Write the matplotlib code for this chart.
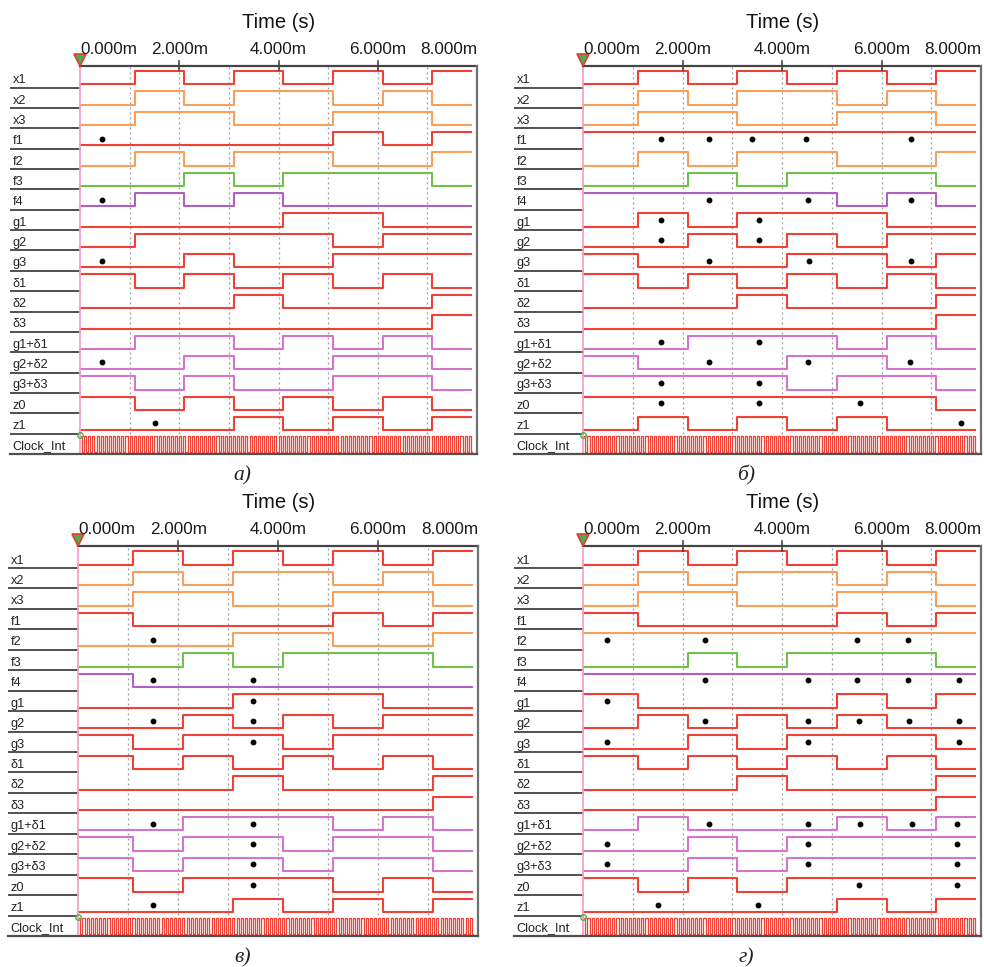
import numpy as np
import matplotlib.pyplot as plt

plt.rcParams['font.family'] = ['Liberation Sans', 'DejaVu Sans']

# signal rows (top to bottom), clock row comes after them
rows = ['x1', 'x2', 'x3', 'f1', 'f2', 'f3', 'f4', 'g1', 'g2', 'g3',
        'δ1', 'δ2', 'δ3', 'g1+δ1', 'g2+δ2', 'g3+δ3', 'z0', 'z1']

# switching instants of the input combinations, ms
edges = [0, 1.1, 2.1, 3.1, 4.1, 5.1, 6.1, 7.1, 7.88]
clock_per_ms = 12
clock_end = 7.9

# levels on the 8 intervals, one string per row
sig_a = ['01010101', '01011010', '01100110', '00000101', '01011001', '00101110',
         '01010000', '00001100', '01111011', '00100111', '10101010', '00010001',
         '00000001', '01101010', '00100110', '10100110', '10101010', '00010101']
sig_b = ['01010101', '01011010', '01100110', '11111111', '01011001', '00101110',
         '11111010', '01011100', '00101011', '10001101', '10101010', '00010001',
         '00000001', '00111010', '10001100', '11110110', '11111110', '01010100']
sig_c = ['01010101', '01011010', '01100110', '10000101', '00011001', '00101110',
         '10000000', '00011100', '00101011', '10110111', '10101010', '00010001',
         '00000001', '00111010', '10110110', '10110110', '10111010', '00010101']
sig_d = ['01010101', '01011010', '01100110', '10000101', '11111111', '00101110',
         '11111111', '10000101', '01010100', '00101110', '10101010', '00010001',
         '00000001', '01000101', '00101111', '00101111', '10101111', '00000101']

# black marks: (row, time in ms)
dots_a = [('f1', 0.44), ('f4', 0.44), ('g3', 0.44), ('g2+δ2', 0.44), ('z1', 1.52)]
dots_b = [('f1', 1.56), ('f1', 2.52), ('f1', 3.40), ('f1', 4.48), ('f1', 6.59),
          ('f4', 2.52), ('f4', 4.51), ('f4', 6.59),
          ('g1', 1.56), ('g1', 3.54), ('g2', 1.56), ('g2', 3.54),
          ('g3', 2.53), ('g3', 4.54), ('g3', 6.59),
          ('g1+δ1', 1.56), ('g1+δ1', 3.54),
          ('g2+δ2', 2.53), ('g2+δ2', 4.53), ('g2+δ2', 6.58),
          ('g3+δ3', 1.56), ('g3+δ3', 3.54),
          ('z0', 1.56), ('z0', 3.54), ('z0', 5.57), ('z1', 7.60)]
dots_c = [('f2', 1.50), ('f4', 1.50), ('f4', 3.50), ('g1', 3.50),
          ('g2', 1.50), ('g2', 3.50), ('g3', 3.50),
          ('g1+δ1', 1.50), ('g1+δ1', 3.50), ('g2+δ2', 3.50), ('g3+δ3', 3.50),
          ('z0', 3.50), ('z1', 1.50)]
dots_d = [('f2', 0.47), ('f2', 2.44), ('f2', 5.50), ('f2', 6.54),
          ('f4', 2.44), ('f4', 4.51), ('f4', 5.50), ('f4', 6.54), ('f4', 7.55),
          ('g1', 0.47),
          ('g2', 2.44), ('g2', 4.51), ('g2', 5.54), ('g2', 6.56), ('g2', 7.55),
          ('g3', 0.47), ('g3', 4.51), ('g3', 7.55),
          ('g1+δ1', 2.53), ('g1+δ1', 4.53), ('g1+δ1', 5.56), ('g1+δ1', 6.62), ('g1+δ1', 7.52),
          ('g2+δ2', 0.47), ('g2+δ2', 4.53), ('g2+δ2', 7.52),
          ('g3+δ3', 0.47), ('g3+δ3', 4.53), ('g3+δ3', 7.52),
          ('z0', 5.54), ('z0', 7.52), ('z1', 1.51), ('z1', 3.52)]

captions = ['а)', 'б)', 'в)', 'г)']
tick_vals = [0, 2, 4, 6, 8]
tick_text = ['0.000m', '2.000m', '4.000m', '6.000m', '8.000m']

red = '#ef4136'
orange = '#f7a05c'
green = '#72c04e'
purple = '#b060c4'
pink = '#d474cc'
row_colors = [red, orange, orange, red, orange, green, purple, red, red, red,
              red, red, red, pink, pink, pink, red, red]

W, H = 984, 967
# label column left, time zero, right border, top, bottom (pixels)
boxes = [(10, 80, 477, 67.3, 454),
         (514, 583.3, 981, 67.3, 454),
         (8, 78.3, 478, 547.6, 936),
         (514, 583.3, 981, 547.6, 936)]

fig = plt.figure(figsize=(W / 100, H / 100), dpi=100)
nrow = len(rows) + 1


def draw_panel(box, sig, dots, cap):
    left, zero, right, top, bottom = box
    ax = fig.add_axes([left / W, 1 - bottom / H, (right - left) / W, (bottom - top) / H])
    pxms = (right - zero) / 8
    x0 = -(zero - left) / pxms
    ax.set_xlim(x0, 8)
    ax.set_ylim(-nrow, 0)
    ax.axis('off')

    # dotted time grid
    for k in range(1, 8):
        ax.plot([k, k], [0, -nrow], ls=(0, (1.5, 2.5)), color='#9a9a9a', lw=0.9)

    for i, name in enumerate(rows):
        lv = [int(c) for c in sig[i]]
        y = [-i - (0.18 if v else 0.835) for v in lv]
        ax.step(edges, y + [y[-1]], where='post', color=row_colors[i], lw=1.5)
        ax.text(x0 + 0.05, -i - 0.78, name, fontsize=9.2, color='#222222', va='baseline')
        ax.plot([x0, 0], [-i - 1, -i - 1], color='#505050', lw=1.4)

    # internal clock
    tc = np.arange(0, clock_end, 0.5 / clock_per_ms)
    lc = [-18 - (0.1 if k % 2 == 0 else 0.9) for k in range(len(tc))]
    ax.step(list(tc) + [clock_end], lc + [lc[-1]], where='post', color=red, lw=0.9)
    ax.text(x0 + 0.05, -18 - 0.78, 'Clock_Int', fontsize=9.2, color='#222222', va='baseline')

    for row, t in dots:
        i = rows.index(row)
        ax.plot(t, -i - 0.5, 'o', color='black', ms=3.2)

    # frame
    ax.plot([0, 0], [0, -nrow], color='#f4a3c6', lw=1.3)
    ax.plot([0, 8], [0.07, 0.07], color='#454545', lw=1.6, clip_on=False)
    ax.plot([8, 8], [0.07, -nrow], color='#707070', lw=1.6, clip_on=False)
    ax.plot([x0, 8], [-nrow, -nrow], color='#505050', lw=1.6, clip_on=False)
    for k in [2, 4, 6]:
        ax.plot([k, k], [0.3, -0.15], color='#454545', lw=1.2, clip_on=False)
    ax.plot(0, 0.35, marker='v', ms=9, mfc='#4fae48', mec='#e53935', mew=1.2, clip_on=False)
    ax.plot(0, -18.05, marker='o', ms=4, mfc='none', mec='#4caf50', mew=1, clip_on=False)

    for v, s in zip(tick_vals, tick_text):
        ha = 'left' if v == 0 else ('right' if v == 8 else 'center')
        ax.text(v, 0.88, s, ha=ha, va='center', fontsize=12.3, color='#1a1a1a')
    ax.text(4, 2.2, 'Time (s)', ha='center', va='center', fontsize=14.5, color='#111111')
    ax.text(3.28, -20.05, cap, ha='center', va='center', fontsize=15.5,
            family='Liberation Serif', style='italic', color='#222222')


for box, sig, dots, cap in zip(boxes, [sig_a, sig_b, sig_c, sig_d],
                               [dots_a, dots_b, dots_c, dots_d], captions):
    draw_panel(box, sig, dots, cap)

fig.savefig('out.png', dpi=100, facecolor='white')
